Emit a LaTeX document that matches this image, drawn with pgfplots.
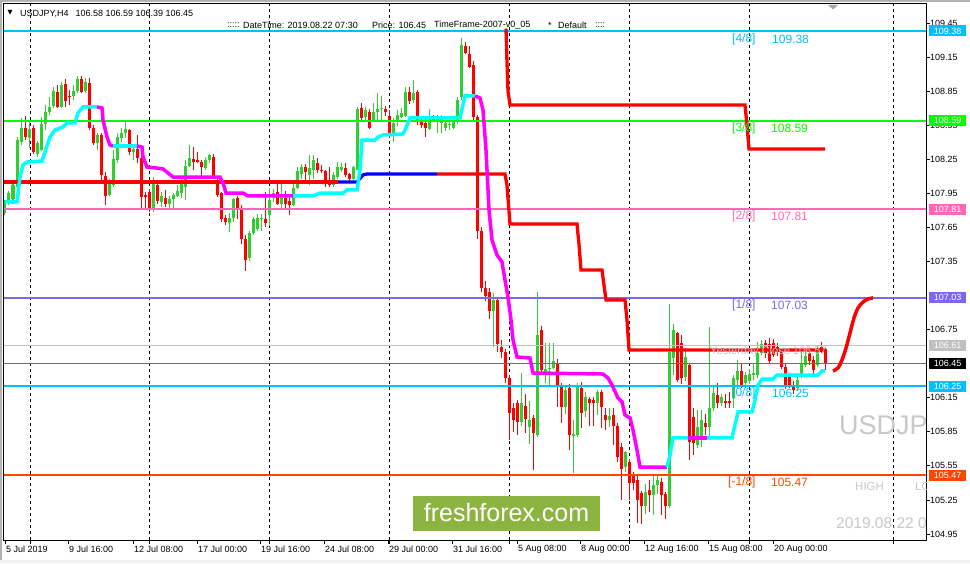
\documentclass[border=0pt]{standalone}
\usepackage{pgfplots}
\pgfplotsset{compat=1.18}
\usepackage{pgfplotstable}
\usepackage{fontspec}
\setmainfont{Liberation Sans}
\newfontfamily\dejavu{DejaVu Sans}
\definecolor{bull}{RGB}{50,205,50}
\definecolor{bear}{RGB}{255,0,0}
\definecolor{lvlblue}{RGB}{0,191,255}
\definecolor{lvlgreen}{RGB}{0,255,0}
\definecolor{lvlpink}{RGB}{255,105,180}
\definecolor{lvlslate}{RGB}{123,104,238}
\definecolor{lvlorange}{RGB}{255,69,0}
\definecolor{trendcyan}{RGB}{0,255,255}
\definecolor{trendmag}{RGB}{255,0,255}
\definecolor{stepblue}{RGB}{0,0,255}
\definecolor{logo}{RGB}{141,179,65}
\definecolor{wm}{RGB}{200,200,200}
\definecolor{silverln}{RGB}{192,192,192}
\definecolor{grayln}{RGB}{110,110,110}
\newcommand{\px}[2]{(#1pt,{563pt-#2pt})}
\newcommand{\fs}[1]{\fontsize{#1}{#1}\selectfont}

\pgfplotstableread{
x o h l c
5 107.78 107.89 107.76 107.87
9 107.87 107.97 107.85 107.95
13 107.90 108.07 107.86 108.02
17 108.01 108.45 108.00 108.42
21 108.40 108.61 108.38 108.53
29 108.44 108.60 108.35 108.52
37 108.30 108.41 108.27 108.39
41 108.33 108.62 108.32 108.56
45 108.56 108.73 108.51 108.67
49 108.67 108.80 108.64 108.71
53 108.72 108.89 108.70 108.85
61 108.71 108.93 108.70 108.90
73 108.81 108.90 108.77 108.85
77 108.85 108.98 108.83 108.96
85 108.85 108.97 108.83 108.93
97 108.39 108.48 108.33 108.46
109 107.94 108.08 107.93 108.04
113 108.02 108.33 108.01 108.25
117 108.24 108.48 108.22 108.45
121 108.44 108.53 108.40 108.48
125 108.48 108.59 108.44 108.52
133 108.31 108.38 108.24 108.34
153 107.80 108.09 107.79 108.04
161 107.87 107.96 107.83 107.93
169 107.86 107.93 107.82 107.90
173 107.90 107.95 107.82 107.94
177 107.93 108.02 107.92 107.97
181 107.95 108.08 107.91 108.03
185 108.01 108.24 107.89 108.19
189 108.19 108.38 108.18 108.26
205 108.17 108.27 108.16 108.24
209 108.24 108.30 108.22 108.29
229 107.69 107.78 107.61 107.73
233 107.73 107.91 107.70 107.90
249 107.38 107.62 107.35 107.60
253 107.60 107.74 107.58 107.72
257 107.64 107.77 107.62 107.73
261 107.72 107.77 107.62 107.73
269 107.76 108.00 107.66 107.89
273 107.91 107.99 107.87 107.95
281 107.86 108.04 107.80 107.92
293 107.85 108.04 107.84 108.00
297 108.00 108.18 107.99 108.15
301 108.12 108.21 108.08 108.18
309 108.11 108.29 108.02 108.17
313 108.16 108.29 108.08 108.24
333 108.02 108.14 108.01 108.11
337 108.09 108.23 108.08 108.18
341 108.16 108.22 108.14 108.18
353 108.08 108.19 108.07 108.18
357 108.16 108.71 108.16 108.69
365 108.62 108.71 108.60 108.68
373 108.60 108.75 108.58 108.67
377 108.67 108.83 108.60 108.69
381 108.69 108.81 108.59 108.70
393 108.48 108.61 108.40 108.57
397 108.58 108.68 108.54 108.64
401 108.62 108.70 108.61 108.66
405 108.63 108.89 108.62 108.84
413 108.77 108.95 108.75 108.83
429 108.52 108.69 108.51 108.61
437 108.58 108.64 108.48 108.63
441 108.57 108.64 108.48 108.61
445 108.53 108.58 108.50 108.57
449 108.55 108.61 108.51 108.56
453 108.53 108.63 108.52 108.60
457 108.58 108.80 108.56 108.77
461 108.80 109.32 108.77 109.26
493 106.91 107.07 106.60 107.01
521 105.94 106.37 105.90 106.10
529 105.89 106.12 105.74 105.95
537 105.82 107.08 105.80 106.70
545 106.38 106.63 106.28 106.40
549 106.40 106.63 106.26 106.41
553 106.41 106.63 106.40 106.47
565 106.07 106.25 106.01 106.22
573 105.81 105.95 105.49 105.83
577 105.82 106.28 105.80 106.26
585 106.03 106.20 105.98 106.16
597 106.10 106.22 106.00 106.20
609 105.95 106.06 105.89 105.99
625 105.54 105.68 105.50 105.67
645 105.20 105.39 105.13 105.32
653 105.29 105.46 105.12 105.38
657 105.38 105.46 105.30 105.43
669 105.20 106.98 105.18 106.55
673 106.50 106.80 106.35 106.75
685 106.33 106.59 106.30 106.51
697 105.73 106.04 105.71 105.89
701 105.80 106.04 105.72 105.95
709 105.89 106.77 105.78 106.06
713 106.06 106.25 106.03 106.19
721 106.10 106.18 106.08 106.16
733 106.15 106.35 106.06 106.32
737 106.31 106.48 106.24 106.39
745 106.28 106.38 106.24 106.35
749 106.30 106.40 106.27 106.36
753 106.35 106.45 106.31 106.37
757 106.35 106.64 106.32 106.54
761 106.54 106.66 106.53 106.62
797 106.24 106.37 106.21 106.31
801 106.33 106.55 106.32 106.46
805 106.44 106.56 106.42 106.52
817 106.44 106.61 106.42 106.57
}\bulltab

\pgfplotstableread{
x o h l c
25 108.53 108.63 108.42 108.45
33 108.53 108.55 108.30 108.31
57 108.84 108.90 108.70 108.71
65 108.91 108.96 108.71 108.76
69 108.81 108.86 108.73 108.80
81 108.96 108.98 108.83 108.84
89 108.92 108.97 108.51 108.53
93 108.53 108.55 108.38 108.39
101 108.46 108.48 108.07 108.11
105 108.10 108.14 107.85 107.93
129 108.51 108.52 108.29 108.31
137 108.34 108.46 108.22 108.26
141 108.26 108.27 107.80 107.92
145 107.94 107.96 107.80 107.92
149 107.96 107.99 107.79 107.82
157 108.02 108.05 107.86 107.88
165 107.91 107.98 107.83 107.86
193 108.25 108.36 108.16 108.23
197 108.24 108.31 108.22 108.23
201 108.23 108.24 108.09 108.18
213 108.27 108.30 108.08 108.09
217 108.07 108.09 107.92 107.94
221 107.95 107.96 107.70 107.72
225 107.73 107.76 107.67 107.70
237 107.91 107.93 107.72 107.82
241 107.82 107.85 107.50 107.55
245 107.55 107.58 107.27 107.36
265 107.72 107.96 107.65 107.69
277 107.96 108.04 107.85 107.86
285 107.91 107.97 107.80 107.86
289 107.88 107.91 107.76 107.85
305 108.18 108.21 108.04 108.14
317 108.22 108.26 108.13 108.16
321 108.16 108.20 108.13 108.15
325 108.15 108.16 108.01 108.04
329 108.07 108.18 108.01 108.02
345 108.17 108.22 108.09 108.11
349 108.12 108.13 108.05 108.08
361 108.70 108.75 108.60 108.61
369 108.67 108.69 108.52 108.53
385 108.69 108.72 108.63 108.67
389 108.63 108.68 108.44 108.48
409 108.84 108.89 108.74 108.76
417 108.84 108.86 108.55 108.60
421 108.60 108.62 108.53 108.55
425 108.57 108.62 108.45 108.53
433 108.63 108.64 108.58 108.60
465 109.25 109.28 109.18 109.19
469 109.18 109.25 109.05 109.06
473 109.08 109.12 108.60 108.62
477 108.62 108.64 107.55 107.62
481 107.62 107.65 107.08 107.12
485 107.12 107.18 107.00 107.05
489 107.08 107.12 106.84 106.91
497 107.01 107.04 106.55 106.62
501 106.60 106.66 106.50 106.55
505 106.55 106.58 106.28 106.32
509 106.32 106.35 105.78 106.02
513 106.06 106.10 105.85 105.95
517 106.10 106.13 105.82 105.94
525 106.08 106.18 105.84 105.96
533 105.97 106.00 105.51 105.84
541 106.75 106.78 106.36 106.39
557 106.46 106.49 106.07 106.26
561 106.26 106.28 105.93 106.07
569 106.24 106.27 105.69 105.82
581 106.24 106.29 105.88 106.02
589 106.14 106.16 105.90 106.10
593 106.13 106.16 105.90 106.10
601 106.20 106.22 105.88 106.07
605 106.00 106.06 105.87 105.95
613 106.00 106.06 105.73 105.90
617 105.90 105.93 105.58 105.63
621 105.72 105.75 105.25 105.52
629 105.58 105.61 105.25 105.40
633 105.48 105.50 105.34 105.40
637 105.43 105.46 105.05 105.25
641 105.31 105.33 105.04 105.20
649 105.34 105.43 105.14 105.29
661 105.41 105.44 105.12 105.29
665 105.30 105.32 105.08 105.20
677 106.72 106.73 106.29 106.31
681 106.63 106.70 106.27 106.32
689 106.44 106.45 105.60 105.76
693 105.98 106.06 105.65 105.75
705 105.93 106.01 105.82 105.89
717 106.17 106.28 106.06 106.10
725 106.12 106.18 106.06 106.10
729 106.12 106.20 106.06 106.10
741 106.39 106.45 106.24 106.26
765 106.63 106.66 106.50 106.54
769 106.62 106.68 106.45 106.47
773 106.63 106.67 106.51 106.53
777 106.60 106.63 106.52 106.55
781 106.55 106.57 106.40 106.42
785 106.42 106.46 106.23 106.26
789 106.35 106.37 106.24 106.26
793 106.26 106.30 106.18 106.22
809 106.54 106.57 106.44 106.47
813 106.48 106.52 106.36 106.39
821 106.60 106.64 106.54 106.55
825 106.58 106.59 106.39 106.45
}\beartab

\begin{document}
\begin{tikzpicture}
\useasboundingbox (0,0) rectangle (970pt,563pt);
\fill[white] (0,0) rectangle (970pt,563pt);
\fill[gray!60] (0,0) rectangle (2pt,563pt);
\fill[gray!60] (0,561pt) rectangle (970pt,563pt);
\fill[gray!10] (0,0) rectangle (970pt,3pt);
\begin{axis}[
  at={(4pt,23pt)}, anchor=south west,
  scale only axis, width=922pt, height=536pt,
  xmin=4, xmax=926, ymin=104.8972, ymax=109.6178,
  enlargelimits=false,
  axis line style={black, line width=1pt},
  tick align=outside, major tick length=4pt,
  tick style={black, line width=0.8pt},
  xtick pos=bottom, ytick pos=right,
  xtick={5,68,133,197,260,324,388,452,517,580,644,708,773},
  xticklabels={5 Jul 2019, 9 Jul 16:00, 12 Jul 08:00, 17 Jul 00:00, 19 Jul 16:00, 24 Jul 08:00, 29 Jul 00:00, 31 Jul 16:00, 5 Aug 08:00, 8 Aug 00:00, 12 Aug 16:00, 15 Aug 08:00, 20 Aug 00:00},
  xticklabel style={anchor=north west, inner sep=0pt, xshift=1pt, yshift=-1.5pt, font=\fs{9}},
  ytick={104.95,105.25,105.55,105.85,106.15,106.75,107.35,107.65,107.95,108.25,108.55,108.85,109.15,109.45},
  yticklabel style={anchor=west, inner sep=0pt, font=\fs{9}, /pgf/number format/.cd, fixed, fixed zerofill, precision=2, assume math mode=true},
  extra x ticks={30,149,269,389,509,629,749,893},
  extra x tick labels={},
  extra x tick style={grid=major, major grid style={black, line width=0.8pt, dash pattern=on 3pt off 3pt}},
]
% candles
\addplot[draw=none, mark=none, forget plot, error bars/.cd, y dir=plus, y explicit, error mark=none, error bar style={draw=bull, line width=1pt}]
  table[x=x, y=l, y error plus expr=\thisrow{h}-\thisrow{l}] {\bulltab};
\addplot[draw=none, mark=none, forget plot, error bars/.cd, y dir=plus, y explicit, error mark=none, error bar style={draw=bull, line width=3pt}]
  table[x=x, y=o, y error plus expr=\thisrow{c}-\thisrow{o}] {\bulltab};
\addplot[draw=none, mark=none, forget plot, error bars/.cd, y dir=plus, y explicit, error mark=none, error bar style={draw=bear, line width=1pt}]
  table[x=x, y=l, y error plus expr=\thisrow{h}-\thisrow{l}] {\beartab};
\addplot[draw=none, mark=none, forget plot, error bars/.cd, y dir=plus, y explicit, error mark=none, error bar style={draw=bear, line width=3pt}]
  table[x=x, y=c, y error plus expr=\thisrow{o}-\thisrow{c}] {\beartab};
% thin price lines
\addplot[silverln, line width=1pt] coordinates {(4,106.61) (926,106.61)};
\addplot[grayln, line width=1pt] coordinates {(4,106.45) (926,106.45)};
% Murrey levels
\addplot[lvlblue, line width=2pt] coordinates {(4,109.38) (926,109.38)};
\addplot[lvlgreen, line width=2pt] coordinates {(4,108.59) (926,108.59)};
\addplot[lvlpink, line width=2pt] coordinates {(4,107.81) (926,107.81)};
\addplot[lvlslate, line width=2pt] coordinates {(4,107.03) (926,107.03)};
\addplot[lvlblue, line width=2pt] coordinates {(4,106.25) (926,106.25)};
\addplot[lvlorange, line width=2pt] coordinates {(4,105.47) (926,105.47)};
% step lines
\addplot[bear, line width=3.3pt] coordinates {(4,108.050) (338,108.050)};
\addplot[stepblue, line width=3.3pt] coordinates {(338,108.050) (357,108.050) (363,108.112) (367,108.121) (437,108.121)};
\addplot[bear, line width=3.3pt] coordinates {(437,108.121) (505,108.121) (507,108.02) (510,107.680) (577,107.680) (579,107.50) (581,107.275) (602,107.275) (604,107.14) (606,107.011) (625,107.011) (627,106.835) (629,106.571) (825,106.571)};
\addplot[bear, line width=3.3pt] coordinates {(506,109.40) (507,109.10) (508,108.85) (510,108.728) (745,108.728) (747,108.55) (749,108.341) (825,108.341)};
% trailing line
\addplot[trendcyan, line width=3.5pt] coordinates {(5,107.874) (17,107.874) (20,108.094) (23,108.200) (27,108.226) (42,108.235) (45,108.314) (50,108.447) (55,108.508) (63,108.535) (67,108.570) (75,108.570) (78,108.658) (83,108.711) (97,108.711)};
\addplot[trendmag, line width=3.5pt] coordinates {(97,108.711) (102,108.702) (103,108.596) (107,108.447) (110,108.376) (113,108.367)};
\addplot[trendcyan, line width=3.5pt] coordinates {(113,108.367) (137,108.367)};
\addplot[trendmag, line width=3.5pt] coordinates {(137,108.367) (142,108.358) (143,108.270) (147,108.182) (157,108.173) (163,108.165) (168,108.129) (173,108.094) (220,108.094) (223,108.041) (226,107.953) (243,107.953) (248,107.927) (293,107.927)};
\addplot[trendcyan, line width=3.5pt] coordinates {(293,107.927) (313,107.927) (320,107.953) (343,107.953) (347,107.980) (357,107.980) (360,108.156) (362,108.420) (375,108.420) (378,108.447) (383,108.464) (403,108.473) (405,108.508) (410,108.614) (460,108.614) (465,108.808) (475,108.808)};
\addplot[trendmag, line width=3.5pt] coordinates {(475,108.808) (480,108.790) (483,108.684) (486,108.332) (489,107.804) (492,107.539) (497,107.407) (502,107.346) (505,107.187) (508,107.037) (511,106.835) (513,106.659) (517,106.509) (530,106.500) (533,106.368) (603,106.359) (608,106.324) (612,106.262) (618,106.148) (622,106.113) (625,105.998) (630,105.972) (633,105.866) (637,105.690) (640,105.540) (667,105.540)};
\addplot[trendcyan, line width=3.5pt] coordinates {(667,105.540) (670,105.646) (673,105.796) (688,105.796)};
\addplot[trendmag, line width=3.5pt] coordinates {(688,105.796) (707,105.796)};
\addplot[trendcyan, line width=3.5pt] coordinates {(707,105.796) (732,105.796) (735,105.910) (738,106.025) (752,106.025) (755,106.130) (758,106.262) (762,106.314) (773,106.314) (777,106.350) (818,106.350) (822,106.386) (825,106.386)};
% projection
\addplot[bear, line width=3.5pt, smooth] coordinates {(833,106.386) (838,106.413) (842,106.483) (846,106.588) (850,106.721) (854,106.853) (858,106.941) (863,106.993) (868,107.020) (873,107.029)};
\end{axis}
% header
\node[anchor=west, inner sep=0pt] at \px{7.5}{13} {\dejavu\fs{6.5}▼};
\node[anchor=west, inner sep=0pt, font=\fs{9}] at \px{20}{13.5} {USDJPY,H4\hspace{7pt}106.58 106.59 106.39 106.45};
\node[anchor=west, inner sep=0pt, font=\fs{9}] at \px{227}{25.5} {:::::};
\node[anchor=west, inner sep=0pt, font=\fs{9}] at \px{243}{25.5} {DateTime: 2019.08.22 07:30};
\node[anchor=west, inner sep=0pt, font=\fs{9}] at \px{372}{25.5} {Price: 106.45};
\node[anchor=west, inner sep=0pt, font=\fs{9}] at \px{434}{25.5} {TimeFrame-2007-v0\_05};
\node[anchor=west, inner sep=0pt, font=\fs{9}] at \px{548}{25.5} {*};
\node[anchor=west, inner sep=0pt, font=\fs{9}] at \px{558}{25.5} {Default};
\node[anchor=west, inner sep=0pt, font=\fs{9}] at \px{595}{25.5} {::::};
\fill[gray!70] \px{828}{5} -- \px{838}{5} -- \px{833}{9.5} -- cycle;
% level texts
\begin{scope}[every node/.style={anchor=west, inner sep=0pt, font=\fs{12}}]
\node[text=lvlblue] at \px{732}{39} {[4/8]};
\node[text=lvlblue] at \px{772}{39} {109.38};
\node[text=lvlgreen] at \px{732}{128} {[3/8]};
\node[text=lvlgreen] at \px{771}{128} {108.59};
\node[text=lvlpink] at \px{732}{216} {[2/8]};
\node[text=lvlpink] at \px{771}{216} {107.81};
\node[text=lvlslate] at \px{732}{305} {[1/8]};
\node[text=lvlslate] at \px{771}{305} {107.03};
\node[text=lvlblue] at \px{732}{393} {[0/8]};
\node[text=lvlblue] at \px{772}{393} {106.25};
\node[text=lvlorange] at \px{728}{482} {[-1/8]};
\node[text=lvlorange] at \px{771}{482} {105.47};
\end{scope}
\node[anchor=west, inner sep=0pt, text=gray!45, font=\fs{11}] at \px{710}{352} {Yesterday Close 106.57};
% watermarks
\begin{scope}
\clip \px{4}{4} rectangle \px{926}{540};
\node[anchor=west, inner sep=0pt, text=wm, font=\fs{27}] at \px{839}{425} {USDJPY};
\node[anchor=west, inner sep=0pt, text=wm, font=\fs{11.5}] at \px{855}{487} {HIGH};
\node[anchor=west, inner sep=0pt, text=wm, font=\fs{11.5}] at \px{915}{487} {LOW};
\node[anchor=west, inner sep=0pt, text=wm, font=\fs{15.5}] at \px{836}{523} {2019.08.22 07:30};
\end{scope}
% logo
\fill[logo] \px{413}{496} rectangle \px{600}{531};
\node[text=white, inner sep=0pt, font=\fs{25}] at \px{506.5}{513} {freshforex.com};
% right price boxes
\begin{scope}[every node/.style={anchor=west, inner sep=0pt, text=white, minimum width=37pt, minimum height=11pt, font=\fs{9}}]
\node[fill=lvlblue] at \px{929}{31} {109.38};
\node[fill=lvlgreen] at \px{929}{120.7} {108.59};
\node[fill=lvlpink] at \px{929}{209.3} {107.81};
\node[fill=lvlslate] at \px{929}{297.8} {107.03};
\node[fill=silverln] at \px{929}{345.5} {106.61};
\node[fill=black] at \px{929}{363.7} {106.45};
\node[fill=lvlblue] at \px{929}{386.4} {106.25};
\node[fill=lvlorange] at \px{929}{475} {105.47};
\end{scope}
\end{tikzpicture}
\end{document}
